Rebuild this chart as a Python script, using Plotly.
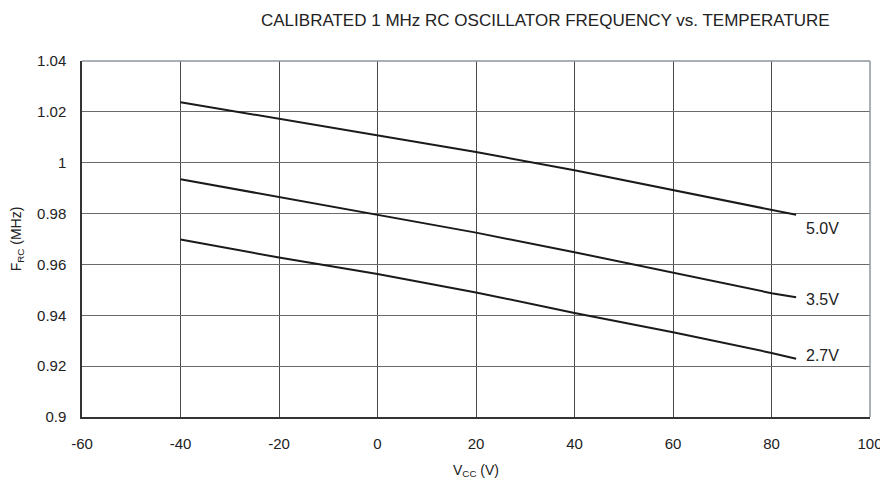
import plotly.graph_objects as go

temps = [-40, -20, 0, 20, 40, 60, 80, 85]
f_50 = [1.0238, 1.0173, 1.0109, 1.0042, 0.9970, 0.9891, 0.9814, 0.9795]
f_35 = [0.9935, 0.9865, 0.9795, 0.9725, 0.9648, 0.9569, 0.9487, 0.9471]
f_27 = [0.9698, 0.9627, 0.9562, 0.9490, 0.9409, 0.9333, 0.9252, 0.9229]
series_names = ["5.0V", "3.5V", "2.7V"]
label_y = [0.9742, 0.9464, 0.9240]
label_x = 86.5

x_ticks = [-60, -40, -20, 0, 20, 40, 60, 80, 100]
x_ticktext = ["-60", "-40", "-20", "0", "20", "40", "60", "80", "100"]
y_ticks = [0.9, 0.92, 0.94, 0.96, 0.98, 1.0, 1.02, 1.04]
y_ticktext = ["0.9", "0.92", "0.94", "0.96", "0.98", "1", "1.02", "1.04"]

font = "Liberation Sans, Arial, Helvetica, sans-serif"
fig = go.Figure()
for name, ys in zip(series_names, [f_50, f_35, f_27]):
    fig.add_trace(go.Scatter(x=temps, y=ys, mode="lines", name=name,
                             line=dict(color="#1a1a1a", width=2), showlegend=False))

for name, ly in zip(series_names, label_y):
    fig.add_annotation(x=label_x, y=ly, text=name, showarrow=False, xanchor="left",
                       yanchor="middle", font=dict(size=16, color="#222", family=font))

fig.add_annotation(x=0.588, xref="paper", y=1.114, yref="paper",
                   text="CALIBRATED 1 MHz RC OSCILLATOR FREQUENCY vs. TEMPERATURE",
                   showarrow=False, font=dict(size=17, color="#222", family=font),
                   yanchor="middle")

# top and right frame lines (lighter)
fig.add_shape(type="line", xref="x domain", yref="y domain", x0=0, x1=1, y0=1, y1=1,
              line=dict(color="#8c96a0", width=1.5))
fig.add_shape(type="line", xref="x domain", yref="y domain", x0=1, x1=1, y0=0, y1=1,
              line=dict(color="#8c96a0", width=1.5))

fig.update_layout(
    width=880, height=477,
    margin=dict(l=73.5, r=18, t=52.7, b=67.7, autoexpand=False),
    paper_bgcolor="white", plot_bgcolor="white",
    font=dict(family=font, color="#222"),
)
fig.update_xaxes(range=[-60, 100], tickvals=x_ticks, ticktext=x_ticktext, showgrid=True,
                 gridcolor="#4a4a4a", automargin=False,
                 gridwidth=1, showline=True, linecolor="#333", linewidth=1.5,
                 zeroline=False, ticks="", tickfont=dict(size=15, color="#222"),
                 ticklabelstandoff=12,
                 title=dict(text="V<sub>CC</sub> (V)", font=dict(size=14, color="#222"), standoff=14))
fig.update_yaxes(range=[0.9, 1.04], tickvals=y_ticks, ticktext=y_ticktext, showgrid=True,
                 gridcolor="#6a6a6a", gridwidth=1, showline=True, linecolor="#333",
                 automargin=False,
                 linewidth=1.5, zeroline=False, ticks="", tickfont=dict(size=15, color="#222"),
                 ticklabelstandoff=11,
                 title=dict(text="F<sub>RC</sub> (MHz)", font=dict(size=14, color="#222"), standoff=12))

fig.write_html("out.html")
